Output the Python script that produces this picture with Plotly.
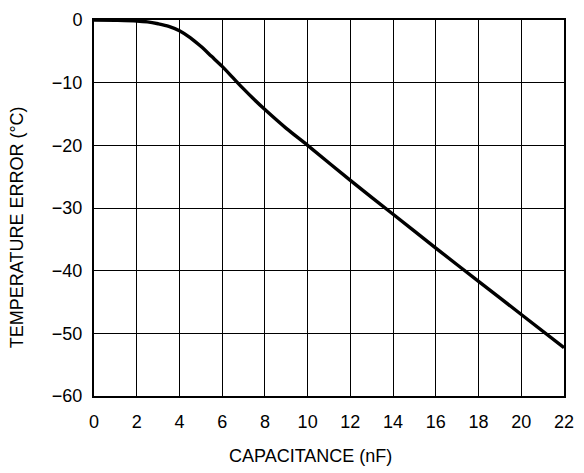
import plotly.graph_objects as go

capacitance_nf = [0, 1, 2, 2.5, 3, 3.5, 4, 4.5, 5, 5.5, 6, 6.5, 7, 7.5, 8, 9, 10, 12, 14, 16, 18, 20, 22]
temp_error_c = [0, -0.05, -0.15, -0.3, -0.6, -1.0, -1.7, -2.8, -4.2, -5.8, -7.4, -9.2, -11.0, -12.7, -14.3, -17.3, -20.0, -25.6, -31.0, -36.4, -41.7, -47.0, -52.3]

x_ticks = list(range(0, 23, 2))
y_ticks = list(range(-60, 1, 10))
y_ticktext = [("\u2212" + str(-v)) if v < 0 else str(v) for v in y_ticks]

font = dict(family="Liberation Sans, Arial, Helvetica, sans-serif", size=18, color="black")

fig = go.Figure()
fig.add_trace(go.Scatter(
    x=capacitance_nf, y=temp_error_c, mode="lines",
    line=dict(color="black", width=3.4, shape="spline", smoothing=0.8),
    showlegend=False, hoverinfo="skip",
))

fig.update_layout(
    width=584, height=473,
    margin=dict(l=94, r=10, t=13, b=77),
    paper_bgcolor="white", plot_bgcolor="white",
    font=font,
    xaxis=dict(
        range=[0, 22], tickvals=x_ticks, ticktext=[str(v) for v in x_ticks],
        showgrid=True, gridcolor="black", gridwidth=1,
        showline=True, linecolor="black", linewidth=2, mirror=True,
        ticks="", ticklabelstandoff=8, ticklabeloverflow="allow",
        zeroline=False, fixedrange=True,
    ),
    yaxis=dict(
        range=[-60, 0], tickvals=y_ticks, ticktext=y_ticktext,
        showgrid=True, gridcolor="black", gridwidth=1,
        showline=True, linecolor="black", linewidth=2, mirror=True,
        ticks="", ticklabelstandoff=6, ticklabeloverflow="allow",
        zeroline=False, fixedrange=True,
    ),
    annotations=[
        dict(text="CAPACITANCE (nF)", xref="paper", yref="paper", x=0.46, y=-0.159,
             xanchor="center", yanchor="middle", showarrow=False, font=font),
        dict(text="TEMPERATURE ERROR (°C)", xref="paper", yref="paper", x=-0.165, y=0.45,
             xanchor="center", yanchor="middle", textangle=-90, showarrow=False, font=font),
    ],
)

fig.write_html("out.html", config={"displayModeBar": False},
               post_script="document.body.style.margin='0';document.body.style.overflow='hidden';")
